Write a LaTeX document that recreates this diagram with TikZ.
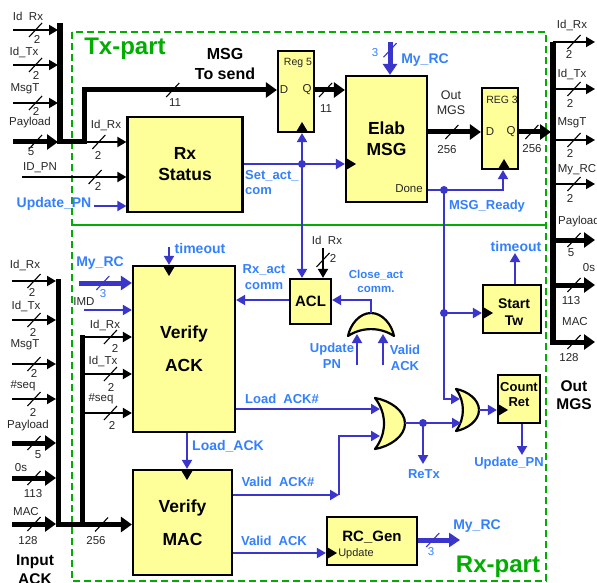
\documentclass[tikz,border=0pt]{standalone}
\usepackage{fontspec}
\setmainfont{Liberation Sans}
\usetikzlibrary{arrows.meta}
\definecolor{boxyel}{HTML}{FFFF99}
\definecolor{wirebl}{HTML}{3A36CC}
\definecolor{textbl}{HTML}{3380FF}
\definecolor{partgr}{HTML}{00AD00}
\newcommand{\fsz}[1]{\fontsize{#1pt}{1.2\dimexpr#1pt\relax}\selectfont}
\tikzset{
  block/.style={draw,line width=2.2pt,fill=boxyel,inner sep=0,align=center,font=\bfseries\fsz{17.5}},
  lbl/.style={inner sep=0,align=center,font=\fsz{11.5},text=black!85},
  blbl/.style={inner sep=0,align=center,font=\bfseries\fsz{13},text=textbl},
  bigblbl/.style={blbl,font=\bfseries\fsz{14}},
  head/.style={inner sep=0,align=center,font=\bfseries\fsz{15.5}},
  sig/.style={draw=black,line width=1.8pt,-{Triangle[length=9pt,width=10pt]}},
  thk/.style={draw=black,line width=5pt,-{Triangle[length=11pt,width=15pt]}},
  bsig/.style={draw=wirebl,line width=2pt,-{Triangle[length=9pt,width=10pt]}},
  bthk/.style={draw=wirebl,line width=5pt,-{Triangle[length=11pt,width=14pt]}},
  busmark/.pic={\draw[-,line width=1.1pt] (-6.5pt,-7pt)--(6.5pt,7pt);},
  clk/.pic={\fill[black] (0,-6pt)--(10pt,0)--(0,6pt)--cycle;},
  orgate/.pic={\draw[line width=2.2pt,fill=boxyel,line join=round] (0,-.5) .. controls (.5,-.45) and (1,-.25) .. (1,0)
    .. controls (1,.25) and (.5,.45) .. (0,.5) .. controls (.4,.2) and (.4,-.2) .. (0,-.5) -- cycle;},
}
\begin{document}
\begin{tikzpicture}[x=1pt,y=-1pt]
  \useasboundingbox (0,0) rectangle (597,583);
  % the two parts
  \coordinate (partnw) at (72,32);
  \coordinate (partse) at (546,581);
  \coordinate (splitw) at (72,225);
  \coordinate (splite) at (546,225);
  \draw[partgr,line width=1.4pt,dash pattern=on 7pt off 4pt] (partnw) rectangle (partse);
  \draw[partgr,line width=1.4pt] (splitw)--(splite);
  \node[inner sep=0,font=\bfseries\fsz{24},text=partgr] (txpart) at (125,49) {Tx-part};
  \node[inner sep=0,font=\bfseries\fsz{24},text=partgr] (rxpart) at (498,567) {Rx-part};

  % blocks
  \node[block,minimum width=115pt,minimum height=95pt] (rxstatus) at (185,164.5) {Rx\\Status};
  \node[block,minimum width=36pt,minimum height=81pt] (regfive) at (296,91.5) {};
  \node[block,minimum width=81pt,minimum height=126pt] (elab) at (386.5,139) {Elab\\MSG};
  \node[block,minimum width=36pt,minimum height=81pt] (regthree) at (500,128.5) {};
  \node[block,minimum width=102pt,minimum height=166pt] (verack) at (184,349) {Verify\\[12pt]ACK};
  \node[block,minimum width=99pt,minimum height=105pt] (vermac) at (182.5,522.5) {Verify\\[12pt]MAC};
  \node[block,minimum width=41pt,minimum height=45pt,font=\bfseries\fsz{15}] (acl) at (310.5,301.5) {ACL};
  \node[block,minimum width=58pt,minimum height=48pt] (starttw) at (512,309) {};
  \node[block,minimum width=42pt,minimum height=48pt] (countret) at (519,399) {};
  \node[block,minimum width=90pt,minimum height=48pt] (rcgen) at (372,541) {};
  \node[lbl,font=\bfseries\fsz{14},text=black] (starttwname) at (514,312.5) {Start\\Tw};
  \node[lbl,font=\bfseries\fsz{13},text=black] (countretname) at (519,394.5) {Count\\Ret};
  \node[lbl,font=\bfseries\fsz{15},text=black] (rcgenname) at (372,537) {RC\_Gen};
  \node[lbl,font=\fsz{10.5}] (regfivename) at (298,63) {Reg 5};
  \node[lbl] (regfived) at (284,90) {D};
  \node[lbl] (regfiveq) at (307,90) {Q};
  \node[lbl,font=\fsz{10.5}] (regthreename) at (502,100) {REG 3};
  \node[lbl] (regthreed) at (490,132) {D};
  \node[lbl] (regthreeq) at (511,132) {Q};
  \node[lbl] (elabdone) at (409,189) {Done};
  \node[lbl,font=\fsz{11}] (rcupdate) at (356,554) {Update};

  % tx inputs
  \draw[line width=5.5pt] (60,23)--(60,144);
  \foreach\n/\lab/\y/\lx/\ly/\wid/\wx/\wy/\st in {
    a/Id~~Rx/30/28/16/2/37/39/sig,
    b/Id\_Tx/65/24/52/2/36/75/sig,
    c/MsgT/103/25/89/2/36/111/sig,
    d/Payload/142/30/123/5/31/152/thk}
  {
    \coordinate (txin\n) at (13,\y);
    \coordinate (txbus\n) at (58,\y);
    \draw[\st] (txin\n) -- pic{busmark} (txbus\n);
    \node[lbl] (txlab\n) at (\lx,\ly) {\lab};
    \node[lbl] (txwid\n) at (\wx,\wy) {\wid};
  }
  \coordinate (txjoin) at (58,141.5);
  \coordinate (txup) at (84,141.5);
  \coordinate (txsend) at (84,90);
  \draw[thk] (txjoin)--(txup)--(txsend) -- pic[pos=.46]{busmark} (regfive.west |- txsend);
  \node[lbl,font=\bfseries\fsz{16},text=black] (msgsend) at (225,64) {MSG\\To send};
  \node[lbl] (msgwid) at (175,103) {11};
  \coordinate (rxstin) at (84,142);
  \draw[sig] (rxstin) -- pic[pos=.35]{busmark} (rxstatus.west |- rxstin);
  \node[lbl] (rxstlab) at (106,125) {Id\_Rx};
  \node[lbl] (rxstwid) at (98,155) {2};
  \coordinate (idpn) at (22,177);
  \draw[sig] (idpn) -- pic[pos=.7]{busmark} (rxstatus.west |- idpn);
  \node[lbl] (idpnlab) at (40,168) {ID\_PN};
  \node[lbl] (idpnwid) at (98,186) {2};
  \coordinate (updin) at (94,206);
  \draw[bsig] (updin)--(rxstatus.west |- updin);
  \node[bigblbl] (updlab) at (54,204) {Update\_PN};

  % reg 5 to elab to reg 3
  \draw[thk] (regfive.east |- txsend) -- pic[pos=.35]{busmark} (elab.west |- txsend);
  \node[lbl] (regfivewid) at (326,109) {11};
  \coordinate (rcin) at (390,42);
  \draw[bthk] (rcin) -- pic[pos=.25]{busmark} (elab.north -| rcin);
  \node[bigblbl] (rclab) at (425,60) {My\_RC};
  \node[lbl,text=textbl,font=\fsz{11.5}] (rcwid) at (375,53) {3};
  \coordinate (outy) at (428,132);
  \draw[thk] (elab.east |- outy) -- pic[pos=.45]{busmark} (regthree.west |- outy);
  \node[lbl,font=\fsz{12.5}] (outlab) at (451,103) {Out\\MGS};
  \node[lbl] (outwid) at (447,150) {256};
  \draw[thk] (regthree.east |- outy) -- pic[pos=.4]{busmark} (551,132);
  \node[lbl] (regthreewid) at (532,149) {256};

  % blue control wires
  \coordinate (setdot) at (302,164);
  \draw[bsig] (rxstatus.east |- setdot)--(elab.west |- setdot);
  \draw[draw=wirebl,line width=2pt,{Triangle[length=9pt,width=10pt]}-{Triangle[length=9pt,width=10pt]}] (regfive.south -| setdot)--(acl.north -| setdot);
  \fill[wirebl] (setdot) circle (4pt);
  \node[blbl,anchor=west,align=left] (setlab) at (245,182.5) {Set\_act\_\\com};
  \coordinate (doney) at (444,190);
  \coordinate (donecorner) at (503,190);
  \coordinate (startdot) at (444,313);
  \coordinate (orbin) at (444,399);
  \coordinate (orbina) at (460,399);
  \draw[bsig] (elab.east |- doney)--(donecorner)--(regthree.south -| donecorner);
  \draw[bsig] (doney)--(orbin)--(orbina);
  \draw[bsig] (startdot)--(starttw.west |- startdot);
  \fill[wirebl] (doney) circle (4pt);
  \fill[wirebl] (startdot) circle (4pt);
  \node[blbl] (readylab) at (487,206) {MSG\_Ready};
  \coordinate (touty) at (515,253);
  \draw[bsig] (starttw.north -| touty)--(touty);
  \node[bigblbl] (toutlab) at (516,246) {timeout};

  % acl
  \coordinate (aclid) at (323,248);
  \draw[sig] (aclid) -- pic[pos=.4]{busmark} (acl.north -| aclid);
  \node[lbl] (aclidlab) at (327,240) {Id~~Rx};
  \node[lbl] (aclidwid) at (333,258) {2};
  \coordinate (aclrx) at (290,300);
  \draw[bsig] (acl.west |- aclrx)--(verack.east |- aclrx);
  \node[blbl] (aclrxlab) at (264,277) {Rx\_act\\comm};
  \node[blbl,font=\bfseries\fsz{11.5}] (closelab) at (376,281) {Close\_act\\comm.};
  \pic[rotate=90,xscale=23,yscale=46] at (371,336) {orgate};
  \coordinate (clouty) at (371,313);
  \coordinate (cloutc) at (371,300);
  \draw[bsig] (clouty)--(cloutc)--(acl.east |- cloutc);
  \coordinate (clupd) at (357,365);
  \coordinate (clupdt) at (357,334);
  \coordinate (clval) at (383,365);
  \coordinate (clvalt) at (383,334);
  \draw[bsig] (clupd)--(clupdt);
  \draw[bsig] (clval)--(clvalt);
  \node[blbl] (clupdlab) at (332,356) {Update\\PN};
  \node[blbl] (clvallab) at (405,358) {Valid\\ACK};

  % rx inputs
  \draw[line width=5pt] (58.5,279)--(58.5,527);
  \foreach\n/\lab/\y/\lx/\ly/\wid/\wx/\wy/\st in {
    a/Id\_Rx/281/25/265/2/32/292/sig,
    b/Id\_Tx/320/26/306/2/33/332/sig,
    c/MsgT/364/25/345/2/34/373/sig,
    d/\#seq/399/23/386/2/33/412/sig,
    e/Payload/443/28/426/5/38/455/thk,
    f/0s/478/21/468/113/33/494/thk,
    g/MAC/524/26/512/128/28/541/thk}
  {
    \coordinate (rxin\n) at (12,\y);
    \coordinate (rxbus\n) at (56,\y);
    \draw[\st] (rxin\n) -- pic{busmark} (rxbus\n);
    \node[lbl] (rxlab\n) at (\lx,\ly) {\lab};
    \node[lbl] (rxwid\n) at (\wx,\wy) {\wid};
  }
  \node[head] (inputlab) at (35,570) {Input\\ACK};
  \coordinate (rxjoin) at (56,524.5);
  \draw[thk] (rxjoin) -- pic[pos=.6]{busmark} (vermac.west |- rxjoin);
  \node[lbl] (rxjoinwid) at (96,541) {256};
  \draw[line width=5pt] (82,335)--(82,524);
  \foreach\n/\lab/\y/\lx/\ly/\wx/\wy in {
    a/Id\_Rx/337/105/325/115/348,
    b/Id\_Tx/374/103/361/111/387,
    c/\#seq/413/101/399/112/425}
  {
    \coordinate (brin\n) at (82,\y);
    \draw[sig] (brin\n) -- pic[pos=.57]{busmark} (verack.west |- brin\n);
    \node[lbl] (brlab\n) at (\lx,\ly) {\lab};
    \node[lbl] (brwid\n) at (\wx,\wy) {2};
  }
  \coordinate (imdin) at (84,310);
  \draw[bsig] (imdin)--(verack.west |- imdin);
  \node[lbl] (imdlab) at (84,302) {IMD};
  \coordinate (myrcin) at (79,283);
  \draw[bthk] (myrcin) -- pic[pos=.45]{busmark} (verack.west |- myrcin);
  \node[bigblbl] (myrclab) at (100,263) {My\_RC};
  \node[lbl,text=textbl] (myrcwid) at (103,294) {3};
  \coordinate (toutin) at (169,247);
  \draw[bsig] (toutin)--(verack.north -| toutin);
  \node[bigblbl] (toutinlab) at (200,248) {timeout};

  % gates and what is behind them
  \pic[xscale=30,yscale=51] at (375,423.5) {orgate};
  \pic[xscale=23,yscale=42] at (456,410) {orgate};
  \coordinate (orain) at (380,409);
  \coordinate (oraval) at (339,495);
  \coordinate (oravalb) at (380,436);
  \coordinate (oraout) at (405,423);
  \coordinate (retxdot) at (423,423);
  \coordinate (retxend) at (423,464);
  \coordinate (orbinb) at (461,423);
  \coordinate (orbout) at (479,410);
  \draw[bsig] (verack.east |- orain)--(orain);
  \draw[bsig] (vermac.east |- oraval)--(oraval);
  \draw[bsig] (oraval)--(oraval |- oravalb)--(oravalb);
  \draw[bsig] (oraout)--(orbinb);
  \draw[bsig] (retxdot)--(retxend);
  \fill[wirebl] (retxdot) circle (4pt);
  \draw[bsig] (orbout)--(countret.west |- orbout);
  \coordinate (cntdown) at (522,455);
  \draw[bsig] (countret.south -| cntdown)--(cntdown);
  \node[blbl] (loadlab) at (282,399) {Load~~ACK\#};
  \node[blbl] (validhlab) at (278,482) {Valid~~ACK\#};
  \node[blbl] (retxlab) at (424,474) {ReTx};
  \node[blbl] (cntlab) at (509,463) {Update\_PN};
  \coordinate (loadx) at (187,432);
  \draw[bsig] (verack.south -| loadx)--(vermac.north -| loadx);
  \node[bigblbl] (loadacklab) at (228,446) {Load\_ACK};
  \coordinate (validy) at (232,553);
  \draw[bsig] (vermac.east |- validy)--(rcgen.west |- validy);
  \node[blbl] (validlab) at (274,541) {Valid~~ACK};
  \coordinate (rcouty) at (417,540);
  \coordinate (rcoutend) at (460,540);
  \draw[bthk] (rcgen.east |- rcouty) -- pic[pos=.35]{busmark} (rcoutend);
  \node[lbl,text=textbl,font=\fsz{11.5}] (rcoutwid) at (431,552) {3};
  \node[bigblbl] (rcoutlab) at (477,526) {My\_RC};

  % clock marks
  \pic[rotate=90] at (302,132) {clk};
  \pic[rotate=90] at (504,169) {clk};
  \pic at (346,164) {clk};
  \pic[rotate=-90] at (169,266) {clk};
  \pic[rotate=-90] at (187,470) {clk};
  \pic at (498,410) {clk};
  \pic at (483,313) {clk};
  \pic at (327,553) {clk};

  % outputs
  \draw[line width=5.5pt] (553,42)--(553,345);
  \foreach\n/\lab/\y/\lx/\ly/\wid/\wx/\wy/\st in {
    a/Id\_Rx/42/572/25/2/569/54/sig,
    b/Id\_Tx/89/572/74/2/570/103/sig,
    c/MsgT/140/572/123/2/570/153/sig,
    d/My\_RC/184/577/170/2/570/198/sig,
    e/Payload/240/579/222/5/571/253/thk,
    f/0s/285/589/268/113/571/301/thk,
    g/MAC/342/575/322/128/569/358/thk}
  {
    \coordinate (outbus\n) at (553,\y);
    \coordinate (outend\n) at (595,\y);
    \draw[\st] (outbus\n) -- pic{busmark} (outend\n);
    \node[lbl] (outlab\n) at (\lx,\ly) {\lab};
    \node[lbl] (outwid\n) at (\wx,\wy) {\wid};
  }
  \node[head] (outmgs) at (574,395) {Out\\MGS};
\end{tikzpicture}
\end{document}
